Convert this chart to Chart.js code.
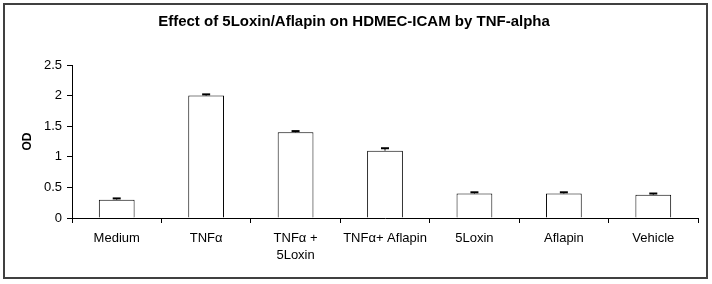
<!DOCTYPE html>
<html><head><meta charset="utf-8">
<script src="https://cdn.jsdelivr.net/npm/chart.js@4"></script>
<style>html,body{margin:0;padding:0;background:#fff}#wrap{width:712px;height:284px;position:relative}</style>
</head>
<body><div id="wrap"><canvas id="c" width="712" height="284"></canvas></div>
<script>
const chartTitle = 'Effect of 5Loxin/Aflapin on HDMEC-ICAM by TNF-alpha';
const categories = ['Medium', 'TNFα', ['TNFα +', '5Loxin'], 'TNFα+ Aflapin', '5Loxin', 'Aflapin', 'Vehicle'];
const odValues = [0.30, 2.00, 1.40, 1.10, 0.40, 0.40, 0.38];
const errValues = [0.02, 0.02, 0.02, 0.04, 0.02, 0.02, 0.02];
const yTickLabels = ['0', '0.5', '1', '1.5', '2', '2.5'];

const FONT = "'Liberation Sans', Arial, sans-serif";

const framePlugin = {
  id: 'frame',
  beforeDraw(chart) {
    const ctx = chart.ctx;
    ctx.save();
    ctx.fillStyle = '#fff';
    ctx.fillRect(0, 0, chart.width, chart.height);
    ctx.strokeStyle = '#404040';
    ctx.lineWidth = 2;
    ctx.strokeRect(4, 4, 703, 274);
    ctx.restore();
  }
};

const errorBarPlugin = {
  id: 'errorBars',
  afterDatasetsDraw(chart) {
    const ctx = chart.ctx;
    const meta = chart.getDatasetMeta(0);
    const y = chart.scales.y;
    ctx.save();
    ctx.strokeStyle = '#000';
    meta.data.forEach((el, i) => {
      const top = y.getPixelForValue(odValues[i] + errValues[i]);
      ctx.lineWidth = 1;
      ctx.beginPath();
      ctx.moveTo(el.x, el.y);
      ctx.lineTo(el.x, top);
      ctx.stroke();
      ctx.lineWidth = 2;
      ctx.beginPath();
      ctx.moveTo(el.x - 4, top);
      ctx.lineTo(el.x + 4, top);
      ctx.stroke();
    });
    ctx.restore();
  }
};

new Chart(document.getElementById('c'), {
  type: 'bar',
  data: {
    labels: categories,
    datasets: [{
      data: odValues,
      backgroundColor: '#fff',
      borderColor: '#000',
      borderWidth: 1,
      barPercentage: 0.5,
      categoryPercentage: 0.8
    }]
  },
  plugins: [framePlugin, errorBarPlugin],
  options: {
    responsive: false,
    animation: false,
    devicePixelRatio: 1,
    layout: { padding: { left: 10, right: 14, top: 0, bottom: 8 } },
    plugins: {
      legend: { display: false },
      tooltip: { enabled: false },
      title: {
        display: true,
        text: chartTitle,
        color: '#000',
        font: { family: FONT, size: 15, weight: 'bold', lineHeight: 1.2 },
        padding: { top: 13, bottom: 34 }
      }
    },
    scales: {
      x: {
        grid: { display: true, drawOnChartArea: false, drawTicks: true, tickLength: 5, color: '#000', offset: true },
        border: { display: true, color: '#000', width: 1 },
        ticks: { color: '#000', font: { family: FONT, size: 13, lineHeight: 1.38 }, padding: 6, autoSkip: false, maxRotation: 0 },
        afterFit(s) { s.height = 58; }
      },
      y: {
        min: 0, max: 2.5,
        grid: { display: true, drawOnChartArea: false, drawTicks: true, tickLength: 5, color: '#000' },
        border: { display: true, color: '#000', width: 1 },
        ticks: {
          stepSize: 0.5, color: '#000', padding: 5,
          font: { family: FONT, size: 13 },
          callback: (v) => yTickLabels[Math.round(v / 0.5)]
        },
        title: { display: true, text: 'OD', color: '#000', font: { family: FONT, size: 12, weight: 'bold' }, padding: { top: 10, bottom: 0 } },
        afterFit(s) { s.width = 62; }
      }
    }
  }
});
</script>
</body></html>
